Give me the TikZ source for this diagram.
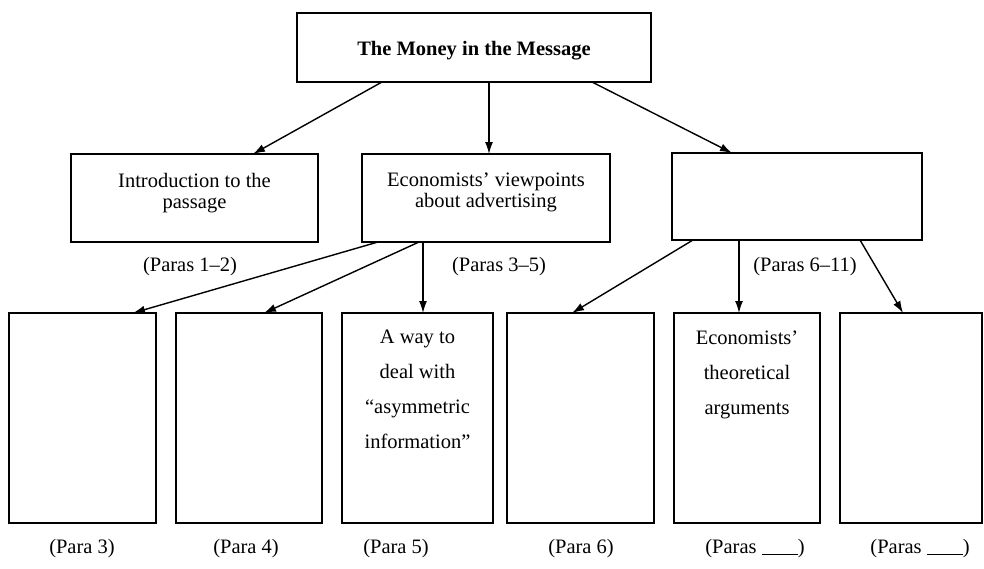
\documentclass[tikz,border=0pt]{standalone}
\usepackage{fontspec}
\setmainfont{Liberation Serif}
\usetikzlibrary{arrows.meta}
\begin{document}
\begin{tikzpicture}[x=1pt,y=-1pt]
\tikzset{
 box/.style={draw, line width=2pt, inner sep=0pt, outer sep=0pt},
 txt/.style={font=\fontsize{20.5}{21}\selectfont, align=center, inner sep=0pt, anchor=north},
 tall/.style={font=\fontsize{20.5}{35}\selectfont, align=center, inner sep=0pt, anchor=north},
 lab/.style={font=\fontsize{20.5}{24}\selectfont, inner sep=0pt, anchor=base},
 arr/.style={line width=1.4pt, -{Latex[length=12pt,width=8pt]}},
}
\fill[white] (0,0) rectangle (984,568);
\useasboundingbox (0,0) rectangle (984,568);

% boxes
\node[box, minimum width=354pt, minimum height=69pt] (top) at (474,47.5) {};
\node[box, minimum width=247pt, minimum height=88pt] (intro) at (194.5,198) {};
\node[box, minimum width=248pt, minimum height=88pt] (econ) at (486,198) {};
\node[box, minimum width=250pt, minimum height=87pt] (right) at (797,196.5) {};
\node[box, minimum width=147pt, minimum height=210pt] (b1) at (82.5,418) {};
\node[box, minimum width=146pt, minimum height=210pt] (b2) at (249,418) {};
\node[box, minimum width=151pt, minimum height=210pt] (b3) at (417.5,418) {};
\node[box, minimum width=147pt, minimum height=210pt] (b4) at (580.5,418) {};
\node[box, minimum width=146pt, minimum height=210pt] (b5) at (747,418) {};
\node[box, minimum width=142pt, minimum height=210pt] (b6) at (911,418) {};

% texts
\node[lab, anchor=base, font=\bfseries\fontsize{20.5}{24}\selectfont] (title) at (474,55) {The Money in the Message};
\node[txt] (introtxt) at (194.5,173) {Introduction to the\\passage};
\node[txt] (econtxt) at (486,173) {Economists’ viewpoints\\about advertising};
\node[tall] (b3txt) at (417.5,330) {A way to\\deal with\\“asymmetric\\information”};
\node[tall] (b5txt) at (747,331) {Economists’\\theoretical\\arguments};

% labels
\node[lab] (l12) at (190,271) {(Paras 1–2)};
\node[lab] (l35) at (499,271) {(Paras 3–5)};
\node[lab] (l611) at (805,271) {(Paras 6–11)};
\node[lab] (lp3) at (82,553) {(Para 3)};
\node[lab] (lp4) at (246,553) {(Para 4)};
\node[lab] (lp5) at (396,553) {(Para 5)};
\node[lab] (lp6) at (581,553) {(Para 6)};
\node[lab] (lpa) at (755,553) {(Paras \underline{\hspace{36pt}})};
\node[lab] (lpb) at (920,553) {(Paras \underline{\hspace{36pt}})};

% connectors
\draw[arr] ([xshift=85pt]top.south west) -- ([xshift=182pt]intro.north west);
\draw[arr] ([xshift=192pt]top.south west) -- ([xshift=127pt]econ.north west);
\draw[arr] ([xshift=295pt]top.south west) -- ([xshift=60pt]right.north west);
\draw[arr] ([xshift=16pt]econ.south west) -- ([xshift=124pt]b1.north west);
\draw[arr] ([xshift=57pt]econ.south west) -- ([xshift=88pt]b2.north west);
\draw[arr] ([xshift=61pt]econ.south west) -- ([xshift=81pt]b3.north west);
\draw[arr] ([xshift=21pt]right.south west) -- ([xshift=65pt]b4.north west);
\draw[arr] ([xshift=67pt]right.south west) -- ([xshift=65pt]b5.north west);
\draw[arr] ([xshift=188pt]right.south west) -- ([xshift=63pt]b6.north west);
\end{tikzpicture}
\end{document}
